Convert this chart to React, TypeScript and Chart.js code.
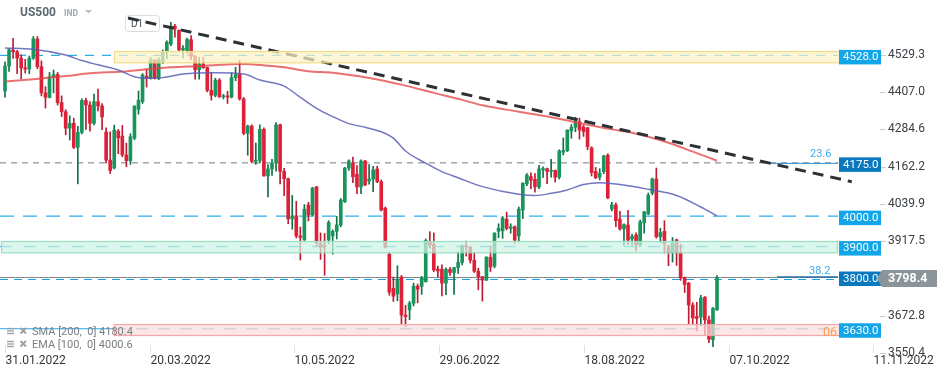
import React, { useEffect, useRef } from "react";
import { Chart, registerables } from "chart.js";

Chart.register(...registerables);

// ---- data ----
const open = [
  4411, 4493, 4546, 4540, 4519, 4487, 4483, 4519, 4582, 4491,
  4405, 4390, 4458, 4465, 4373, 4343, 4289, 4305, 4226, 4275,
  4380, 4365, 4305, 4376, 4362, 4276, 4184, 4158, 4279, 4263,
  4201, 4182, 4256, 4351, 4376, 4460, 4453, 4513, 4452, 4507,
  4539, 4565, 4624, 4610, 4546, 4540, 4580, 4525, 4481, 4500,
  4488, 4413, 4397, 4447, 4392, 4395, 4391, 4455, 4468, 4385,
  4272, 4296, 4180, 4183, 4285, 4132, 4155, 4175, 4300, 4147,
  4123, 3991, 4001, 3935, 3922, 4037, 4004, 4096, 3910, 3905,
  3922, 3935, 3950, 3971, 4047, 4158, 4175, 4138, 4096, 4181,
  4115, 4122, 4155, 4113, 4026, 3875, 3763, 3744, 3800, 3675,
  3692, 3714, 3770, 3769, 3784, 3914, 3907, 3826, 3826, 3780,
  3825, 3815, 3831, 3848, 3903, 3899, 3855, 3819, 3801, 3790,
  3865, 3836, 3950, 3952, 3990, 3960, 3965, 3935, 4020, 4106,
  4130, 4121, 4096, 4152, 4156, 4147, 4150, 4128, 4210, 4215,
  4280, 4292, 4310, 4293, 4290, 4224, 4147, 4128, 4146, 4200,
  4023, 4037, 3990, 3958, 3971, 3925, 3938, 3905, 3978, 4007,
  4076, 4122, 3932, 3950, 3901, 3880, 3922, 3879, 3797, 3780,
  3708, 3670, 3669, 3734, 3659, 3594, 3692,
];
const high = [
  4507, 4550, 4584, 4545, 4530, 4515, 4526, 4590, 4590, 4510,
  4425, 4472, 4480, 4472, 4395, 4350, 4330, 4322, 4295, 4385,
  4388, 4376, 4401, 4417, 4370, 4290, 4277, 4299, 4285, 4298,
  4240, 4271, 4362, 4411, 4468, 4481, 4521, 4514, 4520, 4546,
  4576, 4637, 4630, 4612, 4560, 4585, 4593, 4527, 4521, 4521,
  4490, 4471, 4453, 4452, 4400, 4410, 4471, 4489, 4512, 4390,
  4299, 4300, 4240, 4300, 4290, 4169, 4187, 4307, 4302, 4157,
  4125, 4068, 4049, 3964, 4038, 4046, 4095, 4098, 3945, 3943,
  3985, 3955, 3999, 4058, 4160, 4185, 4194, 4166, 4185, 4183,
  4169, 4164, 4164, 4119, 4030, 3880, 3800, 3837, 3805, 3707,
  3720, 3780, 3777, 3802, 3925, 3949, 3945, 3836, 3840, 3830,
  3832, 3832, 3882, 3906, 3918, 3900, 3880, 3829, 3802, 3867,
  3902, 3946, 3975, 3999, 4013, 3975, 3968, 4030, 4110, 4140,
  4142, 4140, 4167, 4162, 4158, 4187, 4152, 4218, 4257, 4283,
  4301, 4325, 4322, 4298, 4292, 4228, 4160, 4156, 4200, 4205,
  4045, 4044, 4016, 3975, 4019, 3940, 3945, 3987, 4016, 4076,
  4125, 4158, 3960, 3985, 3905, 3930, 3925, 3908, 3800, 3782,
  3716, 3717, 3740, 3736, 3672, 3700, 3805,
];
const low = [
  4391, 4475, 4518, 4468, 4451, 4470, 4468, 4515, 4484, 4395,
  4355, 4388, 4405, 4365, 4327, 4267, 4250, 4222, 4106, 4270,
  4285, 4279, 4300, 4346, 4284, 4175, 4140, 4155, 4205, 4195,
  4162, 4170, 4251, 4335, 4370, 4424, 4450, 4450, 4448, 4501,
  4517, 4560, 4588, 4540, 4520, 4535, 4514, 4450, 4450, 4485,
  4408, 4381, 4392, 4390, 4385, 4370, 4388, 4445, 4381, 4267,
  4200, 4175, 4170, 4175, 4131, 4063, 4134, 4148, 4106, 4067,
  3975, 3957, 3928, 3856, 3920, 3984, 4000, 3900, 3858, 3806,
  3909, 3875, 3925, 3965, 4045, 4150, 4110, 4074, 4074, 4100,
  4105, 4080, 4110, 4017, 3895, 3740, 3720, 3722, 3645, 3636,
  3660, 3705, 3715, 3743, 3784, 3895, 3818, 3800, 3738, 3742,
  3805, 3743, 3812, 3840, 3869, 3846, 3815, 3758, 3721, 3788,
  3818, 3830, 3929, 3927, 3955, 3944, 3911, 3915, 3992, 4100,
  4090, 4079, 4090, 4127, 4107, 4128, 4112, 4122, 4201, 4212,
  4256, 4277, 4253, 4262, 4218, 4132, 4123, 4119, 4139, 4057,
  4017, 3965, 3954, 3903, 3906, 3905, 3886, 3900, 3944, 4005,
  4070, 3928, 3913, 3879, 3837, 3849, 3838, 3789, 3749, 3647,
  3644, 3623, 3640, 3610, 3584, 3571, 3690,
];
const close = [
  4493, 4546, 4540, 4519, 4487, 4483, 4519, 4582, 4491, 4405,
  4390, 4458, 4465, 4373, 4343, 4289, 4305, 4226, 4275, 4380,
  4365, 4305, 4376, 4362, 4326, 4184, 4150, 4283, 4257, 4201,
  4182, 4261, 4362, 4381, 4464, 4453, 4513, 4452, 4513, 4540,
  4572, 4624, 4615, 4546, 4552, 4580, 4525, 4481, 4500, 4488,
  4413, 4397, 4447, 4392, 4395, 4391, 4455, 4465, 4385, 4272,
  4296, 4180, 4183, 4285, 4132, 4155, 4175, 4300, 4147, 4123,
  3991, 4001, 3935, 3930, 4023, 4004, 4092, 3912, 3898, 3900,
  3979, 3950, 3971, 4053, 4158, 4181, 4129, 4096, 4181, 4102,
  4122, 4152, 4113, 4020, 3898, 3750, 3737, 3793, 3675, 3670,
  3714, 3770, 3760, 3796, 3920, 3905, 3823, 3820, 3780, 3825,
  3815, 3831, 3848, 3903, 3899, 3855, 3819, 3801, 3790, 3865,
  3833, 3944, 3960, 3994, 3960, 3965, 3921, 4023, 4108, 4135,
  4118, 4096, 4155, 4156, 4147, 4150, 4128, 4214, 4216, 4283,
  4292, 4310, 4283, 4278, 4228, 4143, 4126, 4141, 4198, 4060,
  4037, 3985, 3958, 3972, 3921, 3933, 3905, 3981, 4014, 4069,
  4122, 3932, 3946, 3908, 3880, 3912, 3879, 3797, 3776, 3708,
  3666, 3664, 3731, 3659, 3596, 3698, 3798.4,
];

// moving averages, read at sample bars
const smaBar = [0, 7, 15, 21, 29, 38, 48, 59, 65, 69, 75, 81, 90, 98, 106, 113, 118, 127, 135, 143, 150, 155, 164, 170, 176];
const smaVal = [4442, 4450, 4460, 4469, 4475, 4486, 4493, 4500, 4494, 4489, 4476, 4471, 4454, 4432, 4405, 4382, 4364, 4343, 4325, 4303, 4285, 4274, 4241, 4212, 4182];
const emaBar = [0, 7, 15, 19, 23, 28, 32, 36, 39, 44, 52, 59, 63, 69, 73, 77, 81, 85, 89, 93, 96, 99, 104, 108, 112, 118, 127, 131, 135, 139, 143, 147, 155, 159, 166, 172, 176];
const emaVal = [4552, 4548, 4529, 4511, 4497, 4480, 4458, 4453, 4455, 4467, 4471, 4467, 4447, 4427, 4390, 4354, 4327, 4304, 4292, 4277, 4256, 4214, 4174, 4146, 4126, 4097, 4072, 4068, 4075, 4086, 4104, 4110, 4098, 4088, 4068, 4030, 4001];

const trendBar = [30.4, 209.3];
const trendVal = [4651, 4113];

const xTickLabels = ["31.01.2022", "20.03.2022", "10.05.2022", "29.06.2022", "18.08.2022", "07.10.2022", "11.11.2022"];
const xTickBars = [0, 35.77, 71.54, 107.31, 143.08, 178.85, 214.62];
const yTickValues = [3550.4, 3672.8, 3917.5, 4039.9, 4162.2, 4284.6, 4407.0, 4529.3];

const levelValues = [4528.0, 4175.0, 4000.0, 3900.0, 3800.0, 3630.0];
const levelDark = [false, true, false, false, true, false];
const lastPrice = 3798.4;
const smaLabel = "SMA [200,  0] 4180.4";
const emaLabel = "EMA [100,  0] 4000.6";

const FONT = "Roboto, 'Noto Sans', sans-serif";

const overlay = {
  id: "overlay",
  beforeDatasetsDraw(chart: any) {
    const ctx = chart.ctx;
    const y = (v: number) => chart.scales.y.getPixelForValue(v);
    const hline = (yy: number, x0: number, x1: number, color: string, w: number, dash: number[]) => {
      ctx.save();
      ctx.strokeStyle = color;
      ctx.lineWidth = w;
      ctx.setLineDash(dash);
      ctx.beginPath();
      ctx.moveTo(x0, yy);
      ctx.lineTo(x1, yy);
      ctx.stroke();
      ctx.restore();
    };
    hline(y(4528), 0, 838, "#2aaee8", 1.2, [9, 8]);
    hline(y(4175), 0, 838, "#6f7c86", 1, [6, 5]);
    hline(y(4000), 0, 838, "#2ab0ee", 1.2, [14, 9]);
    hline(y(3900), 0, 838, "#3dbbe8", 1.4, [12, 12]);
    hline(y(lastPrice), 0, 838, "#7c8b94", 1.2, []);
    hline(y(3800) + 2.5, 0, 838, "#18a3e8", 1.2, [8, 6]);
    hline(y(3630), 0, 114, "#27a8e6", 1.2, []);
    hline(y(3630), 114, 838, "#7fb6e0", 1.3, [12, 10]);
    // fibo segments
    hline(y(4175) + 0.5, 770, 838, "#2a8fd6", 1, []);
    hline(y(3800), 777, 838, "#2c6da0", 1.5, []);
    // D1 box
    ctx.save();
    ctx.fillStyle = "#ffffff";
    ctx.strokeStyle = "#dadde0";
    ctx.lineWidth = 1;
    ctx.beginPath();
    (ctx as any).roundRect(125.5, 15.5, 34, 16, 3);
    ctx.fill();
    ctx.stroke();
    ctx.fillStyle = "#4a4f55";
    ctx.font = `10px ${FONT}`;
    ctx.textBaseline = "middle";
    ctx.fillText("D1", 131, 24);
    ctx.restore();
  },
  afterDatasetsDraw(chart: any) {
    const ctx = chart.ctx;
    const y = (v: number) => chart.scales.y.getPixelForValue(v);
    const zone = (top: number, bot: number, x0: number, x1: number, fill: string, stroke: string) => {
      const y0 = y(top);
      const y1 = y(bot);
      ctx.save();
      ctx.fillStyle = fill;
      ctx.fillRect(x0, y0, x1 - x0, y1 - y0);
      ctx.strokeStyle = stroke;
      ctx.lineWidth = 1.2;
      ctx.strokeRect(x0 + 0.5, y0 + 0.5, x1 - x0 - 1, y1 - y0);
      ctx.restore();
    };
    zone(4542.4, 4505.3, 114, 841, "rgba(251,242,200,0.72)", "#f0dc84");
    zone(3918.3, 3881.1, 1, 838, "rgba(205,242,226,0.72)", "#96dfc3");
    zone(3645.6, 3609.5, 114, 841, "rgba(252,220,220,0.72)", "#f2a8a8");

    ctx.save();
    ctx.textBaseline = "middle";
    ctx.font = `11px ${FONT}`;
    ctx.fillStyle = "#3aaef0";
    ctx.fillText("23.6", 810, 154);
    ctx.fillText("38.2", 809, 271.5);
    ctx.fillStyle = "#f5a04a";
    ctx.font = `12.5px ${FONT}`;
    ctx.fillText("06", 823, 333);
    ctx.restore();
  },
  afterDraw(chart: any) {
    const ctx = chart.ctx;
    const y = (v: number) => chart.scales.y.getPixelForValue(v);
    const x = (v: number) => chart.scales.x.getPixelForValue(v);
    ctx.save();
    // y tick marks
    ctx.strokeStyle = "#c9cdd0";
    ctx.lineWidth = 1;
    yTickValues.forEach((v) => {
      const yy = Math.round(y(v)) + 0.5;
      ctx.beginPath();
      ctx.moveTo(880, yy);
      ctx.lineTo(886, yy);
      ctx.stroke();
    });
    // level price boxes
    ctx.textBaseline = "middle";
    levelValues.forEach((v, i) => {
      const yy = y(v) + 1.5;
      ctx.fillStyle = levelDark[i] ? "#0a78bd" : "#12a6e8";
      ctx.fillRect(839, yy - 7, 42, 14.5);
      ctx.fillStyle = "#ffffff";
      ctx.font = `11.5px ${FONT}`;
      ctx.fillText(v.toFixed(1), 843, yy + 0.5);
    });
    // last price box
    const ly = y(lastPrice) + 1;
    ctx.fillStyle = "#8b9599";
    ctx.beginPath();
    ctx.moveTo(877, ly);
    ctx.lineTo(882, ly - 8.5);
    ctx.lineTo(937, ly - 8.5);
    ctx.lineTo(937, ly + 8.5);
    ctx.lineTo(882, ly + 8.5);
    ctx.closePath();
    ctx.fill();
    ctx.fillStyle = "#ffffff";
    ctx.font = `bold 12.5px ${FONT}`;
    ctx.fillText(lastPrice.toFixed(1), 888, ly + 0.5);

    // x labels
    ctx.font = `12px ${FONT}`;
    ctx.fillStyle = "#333639";
    ctx.strokeStyle = "#dfe2e4";
    xTickLabels.forEach((t, i) => {
      const xx = Math.round(x(xTickBars[i])) + 0.5;
      ctx.beginPath();
      ctx.moveTo(xx, 345);
      ctx.lineTo(xx, 353);
      ctx.stroke();
      ctx.fillText(t, xx, 361);
    });

    // header
    ctx.fillStyle = "#5d6870";
    ctx.font = `bold 12px ${FONT}`;
    ctx.fillText("US500", 20, 13);
    ctx.fillStyle = "#a2aab0";
    ctx.font = `bold 8.5px ${FONT}`;
    ctx.fillText("IND", 64, 14);
    ctx.fillStyle = "#b9bfc3";
    ctx.beginPath();
    ctx.moveTo(85, 10);
    ctx.lineTo(92, 10);
    ctx.lineTo(88.5, 13.5);
    ctx.closePath();
    ctx.fill();

    // legend
    const legendRow = (yy: number, text: string) => {
      ctx.strokeStyle = "#9a9fa3";
      ctx.lineWidth = 1.3;
      [-2.5, 0, 2.5].forEach((d) => {
        ctx.beginPath();
        ctx.moveTo(7, yy + d);
        ctx.lineTo(14, yy + d);
        ctx.stroke();
      });
      ctx.lineWidth = 1.8;
      ctx.beginPath();
      ctx.moveTo(20.5, yy - 3);
      ctx.lineTo(26, yy + 2.5);
      ctx.moveTo(26, yy - 3);
      ctx.lineTo(20.5, yy + 2.5);
      ctx.stroke();
      ctx.fillStyle = "#7a7f84";
      ctx.font = `11px ${FONT}`;
      ctx.fillText(text, 32, yy + 1);
    };
    legendRow(331, smaLabel);
    legendRow(344, emaLabel);
    ctx.restore();
  },
};

export default function App() {
  const ref = useRef<HTMLCanvasElement | null>(null);
  useEffect(() => {
    document.body.style.margin = "0";
    const canvas = ref.current;
    if (!canvas) return;
    const idx = open.map((_, i) => i);
    const up = idx.map((i) => close[i] >= open[i]);
    const wicks = idx.map((i) => ({ x: i, y: [low[i], high[i]] }));
    const bodies = idx.map((i) => ({ x: i, y: [open[i], close[i]] }));
    const sma = smaBar.map((b, i) => ({ x: b, y: smaVal[i] }));
    const ema = emaBar.map((b, i) => ({ x: b, y: emaVal[i] }));
    const trend = trendBar.map((b, i) => ({ x: b, y: trendVal[i] }));

    const chart = new Chart(canvas, {
      type: "bar",
      data: {
        datasets: [
          {
            type: "line",
            label: "trend",
            data: trend,
            borderColor: "#2b3136",
            borderWidth: 3,
            borderDash: [11, 7],
            pointRadius: 0,
            clip: false,
            order: 1,
          } as any,
          {
            type: "line",
            label: "EMA",
            data: ema,
            borderColor: "rgba(90,94,182,0.85)",
            borderWidth: 1.5,
            pointRadius: 0,
            cubicInterpolationMode: "monotone",
            order: 2,
          } as any,
          {
            type: "line",
            label: "SMA",
            data: sma,
            borderColor: "rgba(226,66,66,0.75)",
            borderWidth: 2,
            pointRadius: 0,
            cubicInterpolationMode: "monotone",
            order: 3,
          } as any,
          {
            type: "bar",
            label: "body",
            data: bodies,
            backgroundColor: up.map((u) => (u ? "#18955c" : "#dc2139")),
            barThickness: 3,
            minBarLength: 1,
            grouped: false,
            order: 4,
          } as any,
          {
            type: "bar",
            label: "wick",
            data: wicks,
            backgroundColor: up.map((u) => (u ? "#127048" : "#bd1b31")),
            barThickness: 1,
            grouped: false,
            order: 5,
          } as any,
        ],
      },
      options: {
        animation: false,
        responsive: false,
        maintainAspectRatio: false,
        devicePixelRatio: 1,
        layout: { padding: { top: 0, bottom: 25, left: 0, right: 0 } },
        plugins: { legend: { display: false }, tooltip: { enabled: false } },
        scales: {
          x: { type: "linear", min: -1.236, max: 206.4, display: false, offset: false },
          y: {
            type: "linear",
            position: "right",
            min: 3550.4,
            max: 4710,
            grid: { display: false, drawTicks: false },
            border: { display: false },
            ticks: {
              padding: 48,
              color: "#3b4045",
              font: { family: FONT, size: 12 },
              callback: (v: any) => Number(v).toFixed(1),
            },
            afterBuildTicks: (s: any) => {
              s.ticks = yTickValues.map((v) => ({ value: v }));
            },
            afterFit: (s: any) => {
              s.width = 109;
              s.paddingTop = 0;
              s.paddingBottom = 0;
            },
          },
        },
      } as any,
      plugins: [overlay],
    });
    return () => chart.destroy();
  }, []);
  return (
    <div style={{ position: "fixed", left: 0, top: 0, width: 949, height: 378, background: "#fff" }}>
      <canvas ref={ref} width={949} height={378} style={{ display: "block" }} />
    </div>
  );
}
